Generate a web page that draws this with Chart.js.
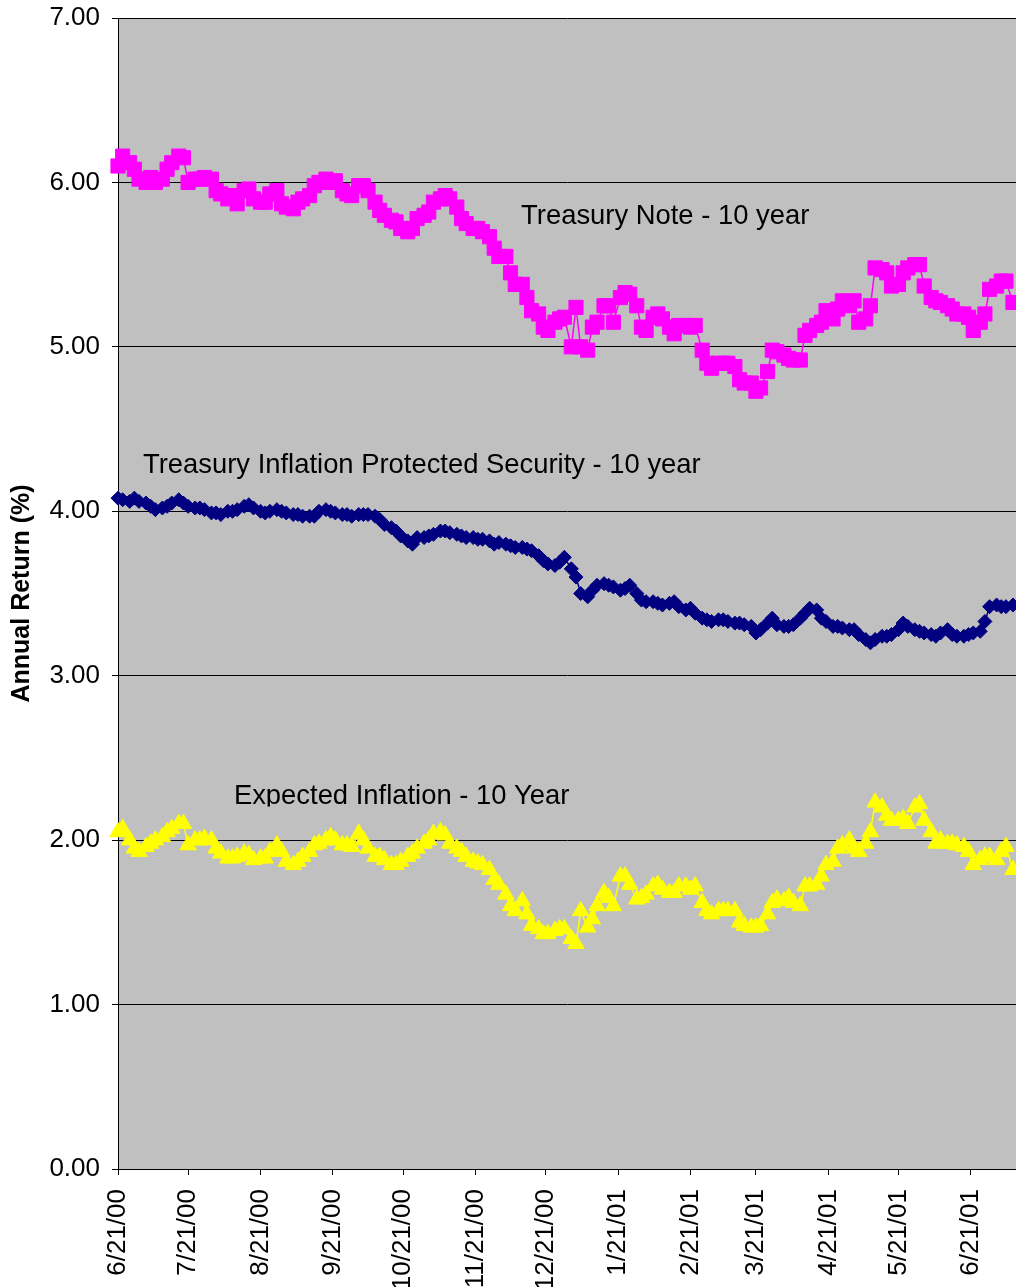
<!DOCTYPE html>
<html>
<head>
<meta charset="utf-8">
<script src="https://cdn.jsdelivr.net/npm/chart.js@4.4.1/dist/chart.umd.min.js"></script>
<style>
  html, body { margin: 0; padding: 0; background: #ffffff; overflow: hidden; }
  canvas { display: block; }
</style>
</head>
<body>
<canvas id="yields" width="1016" height="1287"></canvas>
<script>
// Observation dates: Mon / Wed / Fri from 6/21/00 through 7/9/01
const startDate = '2000-06-21';
const lastDate = '2001-07-09';
const axisEndDate = '2001-07-10';

// Month ticks on the date axis
const tickLabels = ['6/21/00', '7/21/00', '8/21/00', '9/21/00', '10/21/00', '11/21/00', '12/21/00',
                    '1/21/01', '2/21/01', '3/21/01', '4/21/01', '5/21/01', '6/21/01'];

const yTicks = [0, 1, 2, 3, 4, 5, 6, 7];

// 10-year Treasury note yield (%)
const treasuryNote = [
  6.10, 6.16, 6.12,  6.08, 6.02, 6.00,  6.03, 6.00, 6.02,  6.08, 6.12, 6.16,
  6.15, 6.00, 6.02,  6.02, 6.03, 6.02,  5.95, 5.93, 5.90,  5.92, 5.87, 5.95,
  5.96, 5.90, 5.88,  5.88, 5.93, 5.95,  5.87, 5.85, 5.84,  5.88, 5.90, 5.92,
  5.98, 6.00, 6.02,  6.00, 6.01, 5.95,  5.93, 5.92, 5.98,  5.98, 5.95, 5.88,
  5.83, 5.80, 5.77,  5.76, 5.72, 5.70,  5.72, 5.78, 5.80,  5.82, 5.88, 5.90,
  5.92, 5.90, 5.85,  5.78, 5.75, 5.72,  5.72, 5.70, 5.67,  5.60, 5.55, 5.55,
  5.45, 5.38, 5.38,  5.30, 5.22, 5.20,  5.12, 5.10, 5.15,  5.17, 5.18, 5.00,
  5.24, 5.00, 4.98,  5.12, 5.15, 5.25,  5.25, 5.15, 5.30,  5.33, 5.32, 5.25,
  5.12, 5.10, 5.18,  5.20, 5.17, 5.12,  5.08, 5.13, 5.13,  5.12, 5.13, 4.98,
  4.90, 4.87, 4.90,  4.90, 4.90, 4.88,  4.80, 4.78, 4.78,  4.73, 4.75, 4.85,
  4.98, 4.97, 4.95,  4.93, 4.92, 4.92,  5.07, 5.10, 5.13,  5.15, 5.22, 5.17,
  5.23, 5.28, 5.25,  5.28, 5.15, 5.17,  5.25, 5.48, 5.47,  5.45, 5.37, 5.38,
  5.45, 5.48, 5.50,  5.50, 5.37, 5.30,  5.28, 5.27, 5.25,  5.23, 5.20, 5.20,
  5.18, 5.10, 5.15,  5.20, 5.35, 5.37,  5.40, 5.40, 5.27
];

// 10-year Treasury inflation protected security yield (%)
const inflationProtected = [
  4.08, 4.07, 4.06,  4.08, 4.06, 4.05,  4.03, 4.01, 4.02,  4.03, 4.05, 4.07,
  4.05, 4.03, 4.02,  4.02, 4.01, 3.99,  3.99, 3.98, 4.00,  4.00, 4.01, 4.03,
  4.04, 4.02, 4.00,  3.99, 4.00, 4.01,  4.00, 3.99, 3.98,  3.98, 3.97, 3.97,
  3.97, 4.00, 4.01,  4.00, 3.99, 3.98,  3.98, 3.97, 3.98,  3.98, 3.98, 3.97,
  3.95, 3.92, 3.90,  3.88, 3.85, 3.82,  3.80, 3.84, 3.84,  3.85, 3.86, 3.88,
  3.88, 3.87, 3.86,  3.85, 3.84, 3.84,  3.83, 3.83, 3.82,  3.80, 3.81, 3.80,
  3.79, 3.78, 3.78,  3.77, 3.76, 3.73,  3.70, 3.68, 3.67,  3.69, 3.72, 3.65,
  3.60, 3.50, 3.48,  3.52, 3.55, 3.56,  3.55, 3.54, 3.52,  3.53, 3.55, 3.50,
  3.46, 3.45, 3.45,  3.44, 3.43, 3.44,  3.45, 3.42, 3.40,  3.41, 3.38, 3.35,
  3.34, 3.33, 3.34,  3.34, 3.33, 3.32,  3.32, 3.31, 3.30,  3.26, 3.28, 3.32,
  3.35, 3.31, 3.30,  3.30, 3.31, 3.35,  3.38, 3.41, 3.40,  3.35, 3.33, 3.30,
  3.30, 3.29, 3.28,  3.28, 3.25, 3.22,  3.20, 3.22, 3.24,  3.24, 3.25, 3.28,
  3.32, 3.30, 3.28,  3.27, 3.26, 3.25,  3.24, 3.26, 3.28,  3.25, 3.24, 3.24,
  3.25, 3.26, 3.27,  3.33, 3.42, 3.43,  3.42, 3.42, 3.43
];

// 10-year expected inflation (%)
const expectedInflation = [
  2.05, 2.07, 2.00,  1.95, 1.93, 1.96,  1.98, 2.00, 2.02,  2.05, 2.07, 2.10,
  2.10, 1.97, 2.00,  2.00, 2.01, 2.00,  1.95, 1.92, 1.89,  1.89, 1.90, 1.92,
  1.91, 1.88, 1.89,  1.89, 1.93, 1.97,  1.93, 1.87, 1.85,  1.87, 1.90, 1.93,
  1.97, 1.98, 2.00,  2.02, 2.00, 1.97,  1.97, 1.96, 2.04,  2.00, 1.95, 1.90,
  1.90, 1.88, 1.85,  1.85, 1.87, 1.90,  1.92, 1.95, 1.98,  2.00, 2.04, 2.05,
  2.03, 1.98, 1.95,  1.93, 1.90, 1.87,  1.86, 1.85, 1.82,  1.76, 1.73, 1.67,
  1.60, 1.57, 1.63,  1.55, 1.48, 1.46,  1.43, 1.43, 1.45,  1.46, 1.46, 1.40,
  1.37, 1.57, 1.47,  1.52, 1.60, 1.68,  1.65, 1.60, 1.78,  1.78, 1.73, 1.64,
  1.65, 1.67, 1.72,  1.73, 1.70, 1.68,  1.68, 1.72, 1.72,  1.70, 1.72, 1.62,
  1.57, 1.55, 1.57,  1.57, 1.57, 1.57,  1.50, 1.48, 1.47,  1.47, 1.48, 1.55,
  1.62, 1.64, 1.63,  1.65, 1.62, 1.60,  1.72, 1.72, 1.73,  1.78, 1.85, 1.87,
  1.95, 1.97, 2.00,  1.95, 1.93, 1.98,  2.05, 2.23, 2.20,  2.15, 2.12, 2.12,
  2.13, 2.10, 2.20,  2.22, 2.12, 2.05,  1.98, 2.00, 1.98,  1.98, 1.97, 1.96,
  1.93, 1.85, 1.88,  1.90, 1.90, 1.88,  1.93, 1.96, 1.82
];

const seriesNames = [
  'Treasury Note - 10 year',
  'Treasury Inflation Protected Security - 10 year',
  'Expected Inflation - 10 Year'
];

const DAY = 86400000;
const t0 = Date.parse(startDate + 'T00:00:00Z');
const dayIndex = iso => Math.round((Date.parse(iso + 'T00:00:00Z') - t0) / DAY);
const dayFromLabel = s => {
  const [m, d, y] = s.split('/').map(Number);
  return Math.round((Date.UTC(2000 + y, m - 1, d) - t0) / DAY);
};

// Mon / Wed / Fri observation days, as day offsets from the start date
const obsDays = [];
for (let d = 0; d <= dayIndex(lastDate); d++) {
  const wd = new Date(t0 + d * DAY).getUTCDay();
  if (wd === 1 || wd === 3 || wd === 5) obsDays.push(d);
}
const tickDays = tickLabels.map(dayFromLabel);
const toPoints = vals => vals.map((v, i) => ({ x: obsDays[i], y: v }));

const FONT = "'Liberation Sans', Arial, sans-serif";

// Grey plot area
const plotBackground = {
  id: 'plotBackground',
  beforeDraw(chart) {
    const { ctx, chartArea: a } = chart;
    ctx.save();
    ctx.fillStyle = '#c0c0c0';
    ctx.fillRect(a.left, a.top, a.right - a.left, a.bottom - a.top);
    ctx.restore();
  }
};

// Series names written next to each curve (anchor in axis units: day offset, percent)
const seriesTags = [
  { text: seriesNames[0], day: 172.5, value: 5.75 },
  { text: seriesNames[1], day: 10.7, value: 4.235 },
  { text: seriesNames[2], day: 49.6, value: 2.22, clipBelow: 2.205 }
];
const seriesLabels = {
  id: 'seriesLabels',
  afterDatasetsDraw(chart) {
    const { ctx, scales: { x, y } } = chart;
    ctx.save();
    ctx.font = '27.4px ' + FONT;
    ctx.fillStyle = '#000000';
    ctx.textAlign = 'left';
    ctx.textBaseline = 'alphabetic';
    seriesTags.forEach(t => {
      const px = x.getPixelForValue(t.day);
      const py = y.getPixelForValue(t.value);
      ctx.save();
      if (t.clipBelow !== undefined) {
        ctx.beginPath();
        ctx.rect(0, 0, chart.width, y.getPixelForValue(t.clipBelow));
        ctx.clip();
      }
      ctx.fillText(t.text, px, py);
      ctx.restore();
    });
    ctx.restore();
  }
};

const common = {
  showLine: true,
  borderWidth: 1.5,
  pointBorderWidth: 1,
  tension: 0,
  clip: false
};

new Chart(document.getElementById('yields'), {
  type: 'scatter',
  data: {
    datasets: [
      Object.assign({}, common, {
        label: seriesNames[0],
        data: toPoints(treasuryNote),
        borderColor: '#ff00ff', backgroundColor: '#ff00ff',
        pointBorderColor: '#ff00ff', pointBackgroundColor: '#ff00ff',
        pointStyle: 'rect', pointRadius: 10
      }),
      Object.assign({}, common, {
        label: seriesNames[1],
        data: toPoints(inflationProtected),
        borderColor: '#000080', backgroundColor: '#000080',
        pointBorderColor: '#000080', pointBackgroundColor: '#000080',
        pointStyle: 'rectRot', pointRadius: 7
      }),
      Object.assign({}, common, {
        label: seriesNames[2],
        data: toPoints(expectedInflation),
        borderColor: '#ffff00', backgroundColor: '#ffff00',
        pointBorderColor: '#ffff00', pointBackgroundColor: '#ffff00',
        pointStyle: 'triangle', pointRadius: 9.5
      })
    ]
  },
  options: {
    responsive: false,
    animation: false,
    events: [],
    layout: { autoPadding: false, padding: { top: 18, left: 0, right: 0, bottom: 0 } },
    plugins: { legend: { display: false }, tooltip: { enabled: false } },
    scales: {
      x: {
        type: 'linear',
        min: 0,
        max: dayIndex(axisEndDate) + 0.3,
        afterBuildTicks(scale) { scale.ticks = tickDays.map(v => ({ value: v })); },
        afterFit(scale) {
          scale.height = 118;
          scale.paddingLeft = 0;
          scale.paddingRight = 0;
        },
        grid: { display: true, drawOnChartArea: false, drawTicks: true, tickLength: 6, color: '#000000', lineWidth: 1 },
        border: { display: true, color: '#000000', width: 1 },
        ticks: {
          autoSkip: false,
          minRotation: 90,
          maxRotation: 90,
          padding: 14,
          color: '#000000',
          font: { family: FONT, size: 26 },
          callback: (v) => tickLabels[tickDays.indexOf(v)]
        }
      },
      y: {
        min: 0,
        max: 7,
        afterBuildTicks(scale) { scale.ticks = yTicks.map(v => ({ value: v })); },
        afterFit(scale) {
          scale.width = 118;
          scale.paddingTop = 0;
          scale.paddingBottom = 0;
        },
        grid: { display: true, drawOnChartArea: true, drawTicks: true, tickLength: 6, color: '#000000', lineWidth: 1 },
        border: { display: true, color: '#000000', width: 1 },
        ticks: {
          padding: 12,
          color: '#000000',
          font: { family: FONT, size: 26 },
          callback: v => v.toFixed(2)
        },
        title: {
          display: true,
          text: 'Annual Return (%)',
          color: '#000000',
          font: { family: FONT, size: 25, weight: 'bold', lineHeight: 1.2 },
          padding: { top: 7, bottom: 0 }
        }
      }
    }
  },
  plugins: [plotBackground, seriesLabels]
});
</script>
</body>
</html>
